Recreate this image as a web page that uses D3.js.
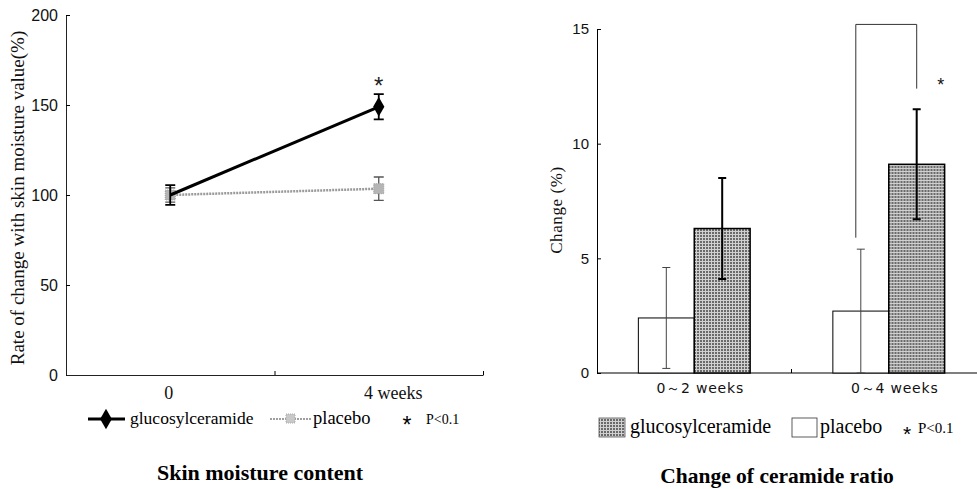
<!DOCTYPE html>
<html>
<head>
<meta charset="utf-8">
<script src="https://cdn.jsdelivr.net/npm/d3@7"></script>
<style>
  body { margin: 0; background: #fff; }
</style>
</head>
<body>
<div id="chart"></div>
<script>
// left panel: skin moisture content
var weeks = [0, 4];
var weekLabels = ["0", "4 weeks"];
var moistTicks = [0, 50, 100, 150, 200];
var glucoMoist = [100, 149];
var glucoMoistErr = [5.5, 7];
var placeboMoist = [100, 103.5];
var placeboMoistErr = [4, 6.5];
var moistSig = [{ week: 4, value: 156 }];

// right panel: change of ceramide ratio
var periods = ["0～2 weeks", "0～4 weeks"];
var groups = ["placebo", "glucosylceramide"];
var placeboCer = [2.4, 2.7];
var placeboCerErr = [2.2, 2.7];
var glucoCer = [6.3, 9.1];
var glucoCerErr = [2.2, 2.4];
var cerTicks = [0, 5, 10, 15];
var bracket = [5.9, 15.2, 12.4]; // left leg bottom, top, right leg bottom
var cerSig = 12.3;

var SERIF = "'Liberation Serif', 'Times New Roman', serif";
var SANS = "'Liberation Sans', Arial, sans-serif";

var svg = d3.select("#chart").append("svg")
    .attr("width", 977)
    .attr("height", 489);

var defs = svg.append("defs");
var pat = defs.append("pattern").attr("id", "grid")
    .attr("width", 3).attr("height", 3)
    .attr("patternUnits", "userSpaceOnUse");
pat.append("rect").attr("width", 3).attr("height", 3).attr("fill", "#6a6a6a");
pat.append("path").attr("d", "M0,0.5H3M0.5,0V3")
    .attr("stroke", "#d0d0d0").attr("stroke-width", 1);

// ---------- left panel ----------
var xL = d3.scaleLinear().domain([-2, 6]).range([66, 483]);
var yL = d3.scaleLinear().domain([0, 200]).range([375, 15]);

var gL = svg.append("g");

gL.append("g").attr("transform", "translate(66,0)")
    .call(d3.axisLeft(yL).tickValues(moistTicks).tickSizeInner(-4).tickSizeOuter(0).tickPadding(8))
    .call(g => g.selectAll("text").attr("font-family", SANS).attr("font-size", 16).attr("fill", "#111"));

gL.append("g").attr("transform", "translate(0,375)")
    .call(d3.axisBottom(xL).tickValues([2, 6]).tickSizeInner(-4).tickSizeOuter(0).tickFormat(""));

gL.append("g").attr("transform", "translate(0,375)")
    .call(d3.axisBottom(xL).tickValues(weeks).tickSize(0).tickPadding(11)
        .tickFormat((d, i) => weekLabels[i]))
    .call(g => g.select(".domain").remove())
    .call(g => g.selectAll("text").attr("font-family", SERIF).attr("font-size", 18).attr("fill", "#111")
        .attr("dx", (d, i) => i == 1 ? 14 : -2));

gL.selectAll(".domain").attr("stroke", "#222");

var lineL = d3.line().x((d, i) => xL(weeks[i])).y(d => yL(d));

function errBars(g, vals, errs, color, width, cap) {
    g.selectAll(null).data(vals).enter().append("path")
        .attr("d", (d, i) => {
            var x = xL(weeks[i]), t = yL(d + errs[i]), b = yL(d - errs[i]);
            return "M" + x + "," + t + "V" + b + "M" + (x - cap) + "," + t + "H" + (x + cap) +
                "M" + (x - cap) + "," + b + "H" + (x + cap);
        })
        .attr("stroke", color).attr("stroke-width", width).attr("fill", "none");
}

// placebo
gL.append("path").datum(placeboMoist).attr("d", lineL)
    .attr("fill", "none").attr("stroke", "#9a9a9a").attr("stroke-width", 2.5)
    .attr("stroke-dasharray", "2,1");
errBars(gL, placeboMoist, placeboMoistErr, "#555", 1.3, 5);
gL.selectAll(".psq").data(placeboMoist).enter().append("rect")
    .attr("x", (d, i) => xL(weeks[i]) - 5).attr("y", d => yL(d) - 5)
    .attr("width", 10).attr("height", 10)
    .attr("fill", "#b5b5b5").attr("stroke", "#999").attr("stroke-dasharray", "1,1");

// glucosylceramide
gL.append("path").datum(glucoMoist).attr("d", lineL)
    .attr("fill", "none").attr("stroke", "#000").attr("stroke-width", 3);
errBars(gL, glucoMoist, glucoMoistErr, "#000", 1.8, 5);
gL.selectAll(".gdia").data(glucoMoist).enter().append("path")
    .attr("d", d3.symbol().type(d3.symbolDiamond).size(110))
    .attr("transform", (d, i) => "translate(" + xL(weeks[i]) + "," + yL(d) + ")")
    .attr("fill", "#000")
    .attr("opacity", (d, i) => i == 0 ? 0 : 1);

gL.selectAll(".sig").data(moistSig).enter().append("text")
    .attr("font-family", SANS).attr("x", d => xL(d.week)).attr("y", d => yL(d.value))
    .attr("text-anchor", "middle").attr("font-size", 24).attr("fill", "#222").text("*");

gL.append("text").attr("font-family", SERIF)
    .attr("transform", "translate(24,198) rotate(-90)")
    .attr("text-anchor", "middle").attr("font-size", 19).attr("fill", "#111")
    .text("Rate of change with skin moisture value(%)");

// legend left
var legL = gL.append("g").attr("transform", "translate(0,424)");
legL.append("line").attr("x1", 88).attr("x2", 125).attr("y1", -5).attr("y2", -5)
    .attr("stroke", "#000").attr("stroke-width", 3);
legL.append("path").attr("d", d3.symbol().type(d3.symbolDiamond).size(120))
    .attr("transform", "translate(106,-5)").attr("fill", "#000");
legL.append("text").attr("font-family", SERIF).attr("x", 130).attr("font-size", 17.5).text("glucosylceramide");
legL.append("line").attr("x1", 270).attr("x2", 311).attr("y1", -5).attr("y2", -5)
    .attr("stroke", "#a0a0a0").attr("stroke-width", 2).attr("stroke-dasharray", "2,1");
legL.append("rect").attr("x", 286).attr("y", -10).attr("width", 9).attr("height", 9)
    .attr("fill", "#c8c8c8").attr("stroke", "#aaa").attr("stroke-dasharray", "1,1");
legL.append("text").attr("font-family", SERIF).attr("x", 313).attr("font-size", 18.5).text("placebo");
legL.append("text").attr("font-family", SANS).attr("x", 407).attr("y", 9).attr("text-anchor", "middle")
    .attr("font-size", 23).text("*");
legL.append("text").attr("font-family", SERIF).attr("x", 426).attr("font-size", 14).text("P<0.1");

gL.append("text").attr("font-family", SERIF).attr("x", 260).attr("y", 480)
    .attr("text-anchor", "middle").attr("font-size", 22).attr("font-weight", "bold")
    .text("Skin moisture content");

// ---------- right panel ----------
var x0 = d3.scaleBand().domain(periods).range([597, 986]);
var x1 = d3.scaleBand().domain(groups).range([0, x0.bandwidth()]).paddingOuter(0.74);
var yR = d3.scaleLinear().domain([0, 15]).range([373, 29]);

var gR = svg.append("g");

gR.append("g").attr("transform", "translate(597,0)")
    .call(d3.axisLeft(yR).tickValues(cerTicks).tickSizeInner(-4).tickSizeOuter(0).tickPadding(8))
    .call(g => g.selectAll("text").attr("font-family", SANS).attr("font-size", 15).attr("fill", "#111"));

gR.append("g").attr("transform", "translate(0,373)")
    .call(d3.axisBottom(x0).tickSizeInner(0).tickSizeOuter(0).tickFormat(""))
    .call(g => g.select(".domain").attr("d", "M597,0H977"));
gR.append("line").attr("x1", x0.step() + 597).attr("x2", x0.step() + 597)
    .attr("y1", 373).attr("y2", 369).attr("stroke", "#000");

gR.append("g").attr("transform", "translate(0,373)")
    .call(d3.axisBottom(x0).tickSize(0).tickPadding(10))
    .call(g => g.select(".domain").remove())
    .call(g => g.selectAll("text").attr("font-family", "'DejaVu Sans', sans-serif")
        .attr("font-size", 14).attr("letter-spacing", 0.8).attr("fill", "#111").attr("dx", 6));

var rows = periods.map((p, i) => ({
    period: p,
    vals: [
        { key: "placebo", v: placeboCer[i], e: placeboCerErr[i] },
        { key: "glucosylceramide", v: glucoCer[i], e: glucoCerErr[i] }
    ]
}));

var grp = gR.selectAll(".grp").data(rows).enter().append("g")
    .attr("transform", d => "translate(" + x0(d.period) + ",0)");

grp.selectAll("rect").data(d => d.vals).enter().append("rect")
    .attr("x", d => x1(d.key)).attr("y", d => yR(d.v))
    .attr("width", x1.bandwidth()).attr("height", d => yR(0) - yR(d.v))
    .attr("fill", d => d.key == "placebo" ? "#fff" : "url(#grid)")
    .attr("stroke", "#000").attr("stroke-width", d => d.key == "placebo" ? 1 : 1.5);

grp.selectAll(".err").data(d => d.vals).enter().append("path")
    .attr("d", d => {
        var x = x1(d.key) + x1.bandwidth() / 2, t = yR(d.v + d.e), b = yR(Math.max(0, d.v - d.e));
        return "M" + x + "," + t + "V" + b + "M" + (x - 4) + "," + t + "H" + (x + 4) +
            "M" + (x - 4) + "," + b + "H" + (x + 4);
    })
    .attr("fill", "none")
    .attr("stroke", d => d.key == "placebo" ? "#444" : "#000")
    .attr("stroke-width", d => d.key == "placebo" ? 1 : 2);

// significance bracket on second period
var bxL = x0(periods[1]) + x1("placebo") + x1.bandwidth() / 2 - 5;
var bxR = x0(periods[1]) + x1("glucosylceramide") + x1.bandwidth() / 2;
gR.append("path")
    .attr("d", "M" + bxL + "," + yR(bracket[0]) + "V" + yR(bracket[1]) + "H" + bxR + "V" + yR(bracket[2]))
    .attr("fill", "none").attr("stroke", "#333").attr("stroke-width", 1);
gR.append("text").attr("font-family", SANS).attr("x", bxR + 24).attr("y", yR(cerSig))
    .attr("text-anchor", "middle").attr("font-size", 18).attr("fill", "#111").text("*");

gR.append("text").attr("font-family", SERIF)
    .attr("transform", "translate(562,210) rotate(-90)")
    .attr("text-anchor", "middle").attr("font-size", 17).attr("letter-spacing", 0.6).attr("fill", "#111")
    .text("Change (%)");

// legend right
var legR = gR.append("g").attr("transform", "translate(0,433)");
legR.append("rect").attr("x", 599).attr("y", -15).attr("width", 26).attr("height", 19)
    .attr("fill", "url(#grid)").attr("stroke", "#555").attr("stroke-width", 0.8);
legR.append("text").attr("font-family", SERIF).attr("x", 630).attr("font-size", 20).text("glucosylceramide");
legR.append("rect").attr("x", 792).attr("y", -15).attr("width", 25).attr("height", 19)
    .attr("fill", "#fff").attr("stroke", "#333").attr("stroke-width", 0.8);
legR.append("text").attr("font-family", SERIF).attr("x", 820).attr("font-size", 20).text("placebo");
legR.append("text").attr("font-family", SANS).attr("x", 907).attr("y", 8).attr("text-anchor", "middle")
    .attr("font-size", 21).text("*");
legR.append("text").attr("font-family", SERIF).attr("x", 918).attr("font-size", 15).text("P<0.1");

gR.append("text").attr("font-family", SERIF).attr("x", 777).attr("y", 483)
    .attr("text-anchor", "middle").attr("font-size", 21.5).attr("font-weight", "bold")
    .text("Change of ceramide ratio");
</script>
</body>
</html>
